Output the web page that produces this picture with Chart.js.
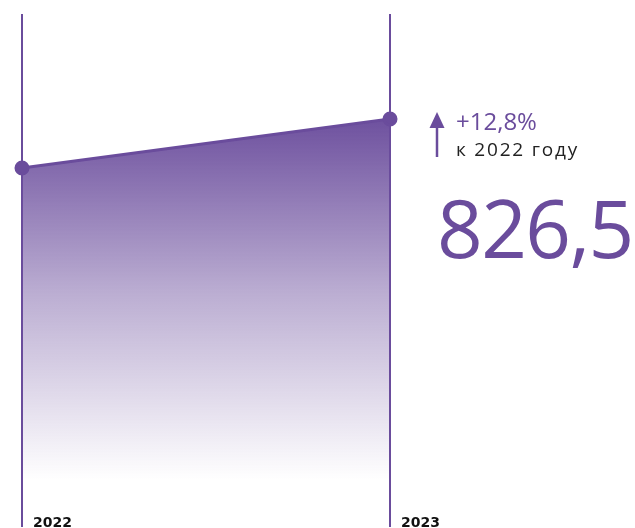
<!DOCTYPE html>
<html>
<head>
<meta charset="utf-8">
<script src="https://cdn.jsdelivr.net/npm/chart.js@4"></script>
<style>
  body { margin: 0; background: #fff; }
  #wrap { position: relative; width: 635px; height: 528px; overflow: hidden; }
  #chart { position: absolute; left: 0; top: 0; }
  .note { position: absolute; white-space: nowrap; font-family: "Open Sans", sans-serif; line-height: normal; }
</style>
</head>
<body>
<div id="wrap">
  <canvas id="chart" width="635" height="536"></canvas>
  <svg style="position:absolute;left:428px;top:110px" width="20" height="50">
    <polygon points="9,2 1.5,18 16.5,18" fill="#6a4c9c"/>
    <line x1="9" y1="16" x2="9" y2="47" stroke="#6a4c9c" stroke-width="2.5"/>
  </svg>
  <div class="note" style="left:456px;top:104px;font-size:24px;color:#6a4c9c;">+12,8%</div>
  <div class="note" style="left:456px;top:136px;font-size:19px;color:#222;letter-spacing:1.8px;">к 2022 году</div>
  <div class="note" style="left:437px;top:172px;font-size:80px;color:#6a4c9c;letter-spacing:-1.6px;">826,5</div>
</div>
<script>
// data
const years = ["2022", "2023"];
const values = [732.7, 826.5];

const purple = "#6a4c9c";

// year labels at the bottom of each vertical line
const yearLabels = {
  id: "yearLabels",
  afterDraw(chart) {
    const ctx = chart.ctx;
    const xScale = chart.scales.x;
    ctx.save();
    ctx.font = "bold 14px 'DejaVu Sans'";
    ctx.fillStyle = "#111";
    ctx.textBaseline = "alphabetic";
    years.forEach((y, i) => {
      ctx.fillText(y, xScale.getPixelForValue(i) + 11, 527);
    });
    ctx.restore();
  },
};

const ctx = document.getElementById("chart").getContext("2d");

new Chart(ctx, {
  type: "line",
  data: {
    labels: years,
    datasets: [
      {
        data: values,
        borderColor: purple,
        borderWidth: 3,
        pointRadius: 6,
        pointBackgroundColor: purple,
        pointBorderColor: purple,
        fill: "start",
        clip: false,
        backgroundColor: (c) => {
          const area = c.chart.chartArea;
          if (!area) return "rgba(106,76,156,0.8)";
          const g = c.chart.ctx.createLinearGradient(0, 110, 0, 480);
          g.addColorStop(0, "rgba(106,76,156,1)");
          g.addColorStop(0.5, "rgba(106,76,156,0.45)");
          g.addColorStop(1, "rgba(106,76,156,0)");
          return g;
        },
      },
    ],
  },
  options: {
    responsive: false,
    animation: false,
    layout: { padding: { left: 22, right: 245, top: 14, bottom: 0 } },
    plugins: { legend: { display: false }, tooltip: { enabled: false } },
    scales: {
      x: {
        offset: false,
        ticks: { display: false },
        border: { display: false },
        grid: { color: purple, lineWidth: 2, drawTicks: false },
      },
      y: { display: false, min: 44, max: 1028 },
    },
  },
  plugins: [yearLabels],
});
</script>
</body>
</html>
